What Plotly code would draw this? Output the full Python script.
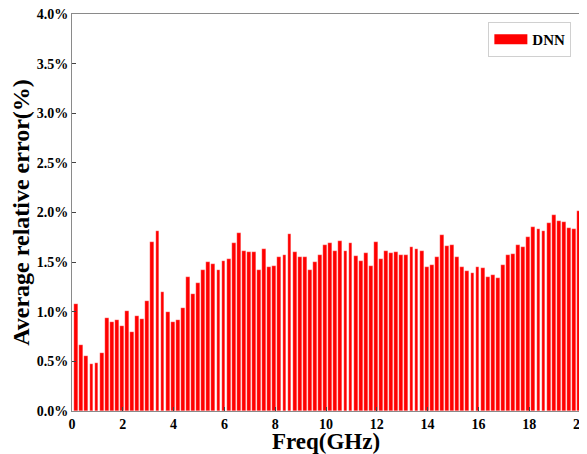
import plotly.graph_objects as go

freq_ghz = [round(0.2 * (i + 1), 1) for i in range(100)]

dnn_error_pct = [
    1.075, 0.665, 0.55, 0.473, 0.487, 0.587, 0.94, 0.893, 0.92, 0.86,
    1.007, 0.80, 0.96, 0.93, 1.108, 1.70, 1.81, 1.20, 0.995, 0.896,
    0.916, 1.04, 1.346, 1.18, 1.29, 1.417, 1.50, 1.48, 1.423, 1.514,
    1.53, 1.695, 1.79, 1.614, 1.60, 1.60, 1.417, 1.628, 1.453, 1.46,
    1.548, 1.568, 1.782, 1.60, 1.554, 1.548, 1.423, 1.50, 1.574, 1.675,
    1.689, 1.614, 1.712, 1.608, 1.695, 1.561, 1.51, 1.594, 1.46, 1.702,
    1.53, 1.611, 1.594, 1.60, 1.568, 1.571, 1.652, 1.628, 1.608, 1.447,
    1.467, 1.554, 1.769, 1.658, 1.668, 1.548, 1.447, 1.413, 1.39, 1.447,
    1.44, 1.353, 1.366, 1.343, 1.467, 1.568, 1.581, 1.672, 1.655, 1.752,
    1.856, 1.836, 1.813, 1.897, 1.974, 1.91, 1.903, 1.843, 1.836, 2.014,
]

series_name = "DNN"
x_title = "Freq(GHz)"
y_title = "Average relative error(%)"

FONT = "Liberation Serif, Times New Roman, serif"
AXIS_COLOR = "#8a8a8a"

fig = go.Figure()
fig.add_trace(go.Bar(
    x=freq_ghz, y=dnn_error_pct,
    width=0.15, offset=-0.11,
    marker=dict(color="#ff0000", line=dict(width=0.4, color="rgba(255,255,255,0.7)")),
    showlegend=False, name=series_name,
))
# legend entry drawn as a wide red patch
fig.add_trace(go.Scatter(
    x=[None], y=[None], mode="lines", name=series_name,
    line=dict(color="#ff0000", width=12),
))

# the page body has an 8px margin, so the figure is 8px smaller than the window
fig.update_layout(
    width=579, height=446,
    margin=dict(l=64, r=7, t=6, b=43),
    paper_bgcolor="white", plot_bgcolor="white",
    font=dict(family=FONT, color="black", size=14),
    bargap=0,
    legend=dict(
        x=0.983, y=0.98, xanchor="right", yanchor="top",
        bordercolor="#d0d0d0", borderwidth=1, bgcolor="white",
        font=dict(family=FONT, size=15, color="black", weight="bold"),
        itemwidth=33,
    ),
)
fig.update_xaxes(
    range=[0, 20], dtick=2, tick0=0, automargin=False,
    ticklabeloverflow="allow",
    showline=True, linecolor=AXIS_COLOR, linewidth=1, mirror=True,
    ticks="inside", ticklen=4, tickcolor="#444",
    showgrid=False, zeroline=False,
    tickfont=dict(family=FONT, size=14, color="black", weight="bold"),
    title=dict(text=x_title, standoff=6,
               font=dict(family=FONT, size=23, color="black", weight="bold")),
)
fig.update_yaxes(
    range=[0, 4], dtick=0.5, tick0=0, automargin=False,
    ticklabeloverflow="allow",
    tickformat=".1f", ticksuffix="%",
    showline=True, linecolor=AXIS_COLOR, linewidth=1, mirror=True,
    ticks="inside", ticklen=4, tickcolor="#444",
    showgrid=False, zeroline=False,
    tickfont=dict(family=FONT, size=14, color="black", weight="bold"),
    title=dict(text=y_title, standoff=9,
               font=dict(family=FONT, size=24, color="black", weight="bold")),
)

fig.write_html("out.html")
